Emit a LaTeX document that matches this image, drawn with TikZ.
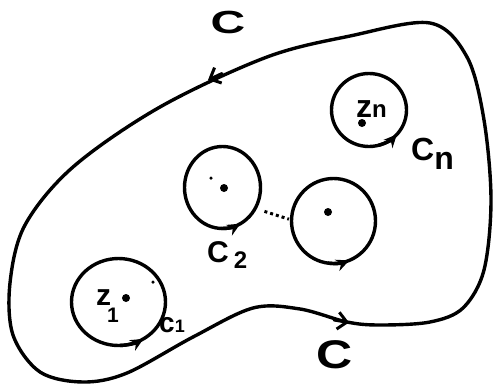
\documentclass[tikz,border=0pt]{standalone}
\usepackage{fontspec}
\setmainfont{Liberation Sans}
\usetikzlibrary{arrows.meta,shapes.geometric}
\begin{document}
\begin{tikzpicture}[x=1pt,y=-1pt,
  contour/.style={line width=3.4pt, line join=round, line cap=round},
  ring/.style={ellipse, draw, line width=3.4pt, inner sep=0pt},
  bigdot/.style={circle, fill, inner sep=0pt, minimum size=8pt},
  smalldot/.style={circle, fill, inner sep=0pt, minimum size=3.5pt},
  tiparc/.style={line width=3.4pt, -{Stealth[length=13pt,width=12pt]}},
  barb/.style={line width=3pt, line cap=round, -{Straight Barb[length=9pt,width=17pt,line width=3pt]}},
  lbl/.style={inner sep=0pt, font=\bfseries},
  dotline/.style={line width=3pt, dash pattern=on 3pt off 3pt}
]
\useasboundingbox (0,0) rectangle (495,391);

% outer contour C
\draw[contour] plot[smooth cycle, tension=0.55] coordinates {
  (430,23) (467,57) (484,120) (491,200) (484,270) (463,308) (430,322)
  (380,325) (347,322) (300,309) (253,308) (193,337) (127,373) (83,382)
  (40,372) (13,335) (10,283) (25,225) (73,167) (160,107) (267,57) (350,36)};

% arrows on outer contour
\draw[barb] (222,73.5) -- (208,80);
\draw[barb] (334,320) -- (349,322.5);

% small contours
\node[ring, minimum width=94pt, minimum height=87pt] (k1) at (118.5,302) {};
\node[ring, minimum width=76pt, minimum height=82pt] (k2) at (222.5,187.5) {};
\node[ring, minimum width=84pt, minimum height=85pt] (k3) at (333.5,221) {};
\node[ring, minimum width=75pt, minimum height=73pt] (kn) at (369,110) {};

% arrow tips on small contours
\draw[tiparc] (k1) ++(88:47 and 43.5) arc[start angle=88, end angle=58, x radius=47, y radius=43.5];
\draw[tiparc] (k2) ++(92:38 and 41) arc[start angle=92, end angle=62, x radius=38, y radius=41];
\draw[tiparc] (k3) ++(98:42 and 42.5) arc[start angle=98, end angle=68, x radius=42, y radius=42.5];
\draw[tiparc] (kn) ++(75:37.5 and 36.5) arc[start angle=75, end angle=42, x radius=37.5, y radius=36.5];

% points
\node[bigdot] (p1) at (126,298) {};
\node[smalldot] (q1) at (153,282) {};
\node[bigdot] (p2) at (224,188) {};
\node[smalldot] (q2) at (211,178) {};
\node[bigdot] (p3) at (328,212) {};
\node[bigdot] (pn) at (362,123) {};

% dotted link
\draw[dotline, shorten <=8pt, shorten >=1pt] (k2.-32) -- (k3.178);

% labels
\node[lbl] (lct) at (228,22) {\fontsize{32}{32}\selectfont\scalebox{1.5}[1]{C}};
\node[lbl] (lcb) at (335,355) {\fontsize{40}{40}\selectfont\scalebox{1.25}[1]{C}};
\node[lbl, anchor=base west] (lcn) at (411,160) {\fontsize{32}{32}\selectfont C\raisebox{-9pt}{\fontsize{32}{32}\selectfont n}};
\node[lbl, anchor=base west] (lzn) at (356,117) {\fontsize{32}{32}\selectfont z\fontsize{24}{24}\selectfont n};
\node[lbl, anchor=base west] (lc2) at (207,262) {\fontsize{30}{30}\selectfont C\,\raisebox{-6pt}{\fontsize{24}{24}\selectfont 2}};
\node[lbl, anchor=base west] (lz1) at (96,305) {\fontsize{30}{30}\selectfont z\kern-4pt\raisebox{-17pt}{\fontsize{21}{21}\selectfont 1}};
\node[lbl, anchor=base west] (lc1) at (159,332) {\fontsize{28}{28}\selectfont c\fontsize{18}{18}\selectfont 1};
\end{tikzpicture}
\end{document}
